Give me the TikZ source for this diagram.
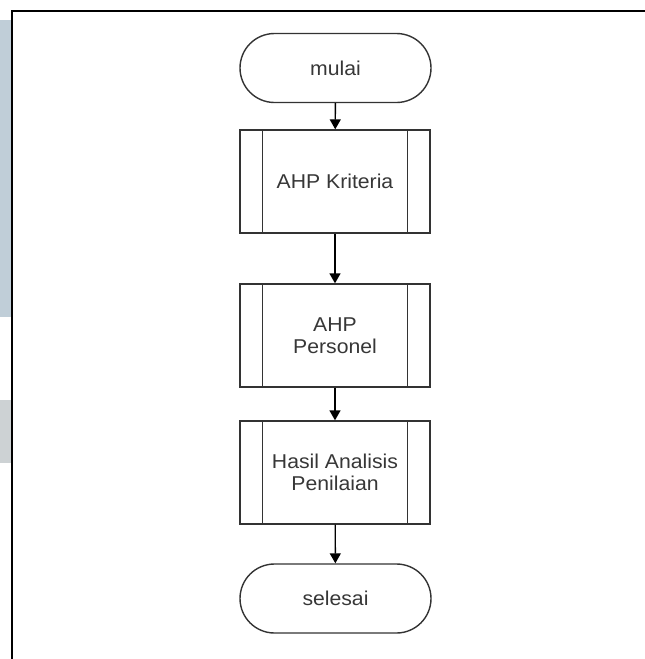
\documentclass[tikz,border=0pt]{standalone}
\usepackage{fontspec}
\setmainfont{Liberation Sans}[FakeStretch=1.06]
\usetikzlibrary{arrows.meta}
\definecolor{edgegray}{RGB}{51,51,51}
\definecolor{textgray}{RGB}{55,55,55}
\definecolor{sideblue}{RGB}{192,206,216}
\definecolor{sidegray}{RGB}{205,210,212}
\tikzset{
  terminal/.style={draw=edgegray, line width=1.4pt, rounded corners=34.5pt,
    minimum width=191pt, minimum height=69pt, inner sep=0pt,
    text=textgray, font=\fontsize{20}{22}\selectfont},
  subproc/.style={draw=edgegray, line width=1.4pt,
    minimum width=190pt, minimum height=103pt, inner sep=0pt, align=center,
    text=textgray, font=\fontsize{20}{22}\selectfont},
  bar/.style={draw=edgegray, line width=1.4pt},
  flow/.style={draw=black, line width=1.4pt,
    -{Triangle[length=10pt,width=11pt]}},
}
\begin{document}
\begin{tikzpicture}[x=1pt, y=-1pt]
  \useasboundingbox (0,0) rectangle (645,659);
  % shaded strips along the left margin
  \fill[sideblue] (0,20) rectangle (11,317);
  \fill[sidegray] (0,400) rectangle (11,463);
  % frame lines
  \draw[line width=2pt, black] (12,660) -- (12,11) -- (646,11);

  % flowchart nodes
  \node[terminal] (mulai)    at (335.5,68)   {mulai};
  \node[subproc]  (kriteria) at (335,181.5)  {AHP Kriteria};
  \node[subproc]  (personel) at (335,335.5)  {AHP\\Personel};
  \node[subproc]  (hasil)    at (335,472.5)  {Hasil Analisis\\Penilaian};
  \node[terminal] (selesai)  at (335.5,598.5) {selesai};

  % side bars of the predefined-process boxes
  \foreach \n in {kriteria,personel,hasil}{
    \draw[bar] ([xshift=23pt]\n.north west) -- ([xshift=23pt]\n.south west);
    \draw[bar] ([xshift=-23pt]\n.north east) -- ([xshift=-23pt]\n.south east);
  }

  % connectors
  \draw[flow] (mulai) -- (kriteria);
  \draw[flow] (kriteria) -- (personel);
  \draw[flow] (personel) -- (hasil);
  \draw[flow] (hasil) -- (selesai);
\end{tikzpicture}
\end{document}
